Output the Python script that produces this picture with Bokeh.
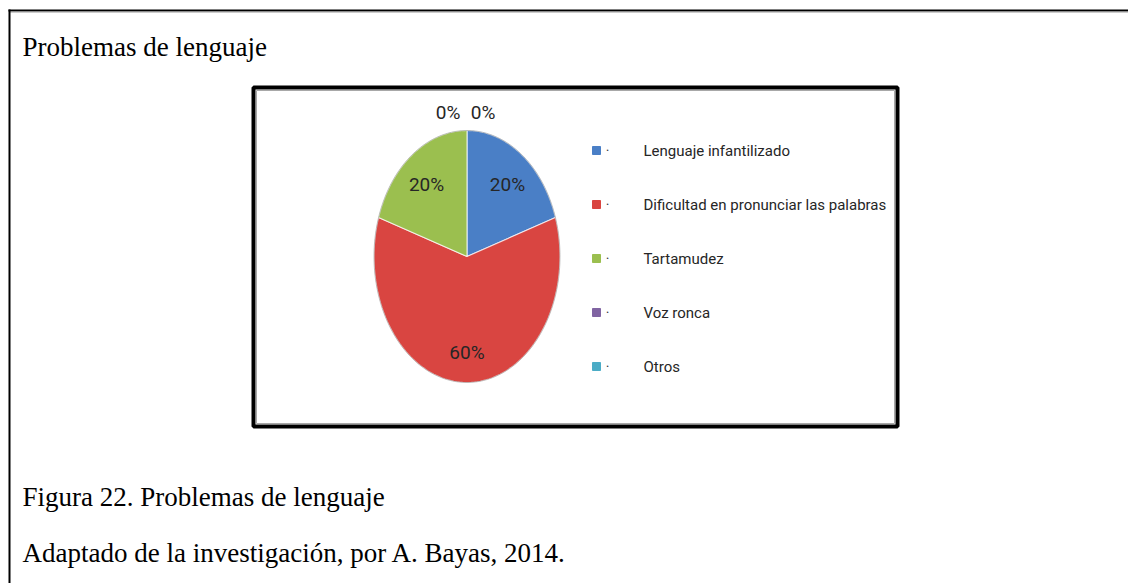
import numpy as np
from bokeh.plotting import figure
from bokeh.models import Range1d
from bokeh.core.properties import value
from bokeh.embed import file_html
from bokeh.resources import INLINE

# ---- data ----
categories = ["Lenguaje infantilizado", "Dificultad en pronunciar las palabras",
              "Tartamudez", "Voz ronca", "Otros"]
values = [20, 60, 20, 0, 0]
labels = ["20%", "60%", "20%", "0%", "0%"]
colors = ["#4a7fc6", "#d94541", "#9bbf4f", "#8064a2", "#4bacc6"]
title_text = "Problemas de lenguaje"
caption_text = "Figura 22. Problemas de lenguaje"
source_text = "Adaptado de la investigación, por A. Bayas, 2014."

# ---- figure in page-pixel coordinates ----
W, H = 1128, 583
p = figure(width=W, height=H, x_range=Range1d(0, W), y_range=Range1d(H, 0),
           output_backend="svg", toolbar_location=None, min_border=0)
p.axis.visible = False
p.grid.visible = False
p.outline_line_color = None
p.background_fill_color = "white"
p.border_fill_color = "white"

SERIF = value("Liberation Serif")
SANS = value("Roboto")

# outer document frame (top and left rules)
p.line(x=[8, 1128], y=[10, 10], line_color="black", line_width=2)
p.line(x=[9, 1128], y=[11.5, 11.5], line_color="#9a9a9a", line_width=1)
p.line(x=[9, 9], y=[9, 583], line_color="black", line_width=2)

# page texts
for ty, txt in [(46, title_text), (496, caption_text), (552, source_text)]:
    p.text(x=[22], y=[ty], text=[txt], text_font=SERIF, text_font_size="27px",
           text_color="black", text_baseline="alphabetic", text_align="left")

# chart box
p.quad(left=[253], right=[897], top=[87], bottom=[426], fill_color="white",
       line_color="black", line_width=4)
p.quad(left=[256], right=[894], top=[90], bottom=[423], fill_color=None,
       line_color="#a8a8a8", line_width=1)

# ---- pie (elliptical) ----
cx, cy, rx, ry = 466.5, 256.0, 93.0, 126.0
total = float(sum(values))
cum = np.concatenate([[0.0], np.cumsum(values)]) / total
xs, ys, pc = [], [], []
for i, v in enumerate(values):
    if v <= 0:
        continue
    t = np.linspace(cum[i], cum[i + 1], 120) * 2 * np.pi
    xs.append(list(np.r_[cx, cx + rx * np.sin(t)]))
    ys.append(list(np.r_[cy, cy - ry * np.cos(t)]))
    pc.append(colors[i])
p.patches(xs=xs, ys=ys, fill_color=pc, line_color="white", line_alpha=0.7, line_width=1.2)
tt = np.linspace(0, 2 * np.pi, 300)
p.line(x=cx + rx * np.sin(tt), y=cy - ry * np.cos(tt), line_color="#555555",
       line_alpha=0.35, line_width=1)

# slice labels
lx, ly, lt = [], [], []
zero_k = 0
for i, v in enumerate(values):
    mid = (cum[i] + cum[i + 1]) / 2 * 2 * np.pi
    if v > 0:
        f = 0.74
        lx.append(cx + f * rx * np.sin(mid))
        ly.append(cy - f * ry * np.cos(mid) + 3)
    else:
        lx.append(cx + rx * np.sin(mid) + (-19 if zero_k == 0 else 16))
        ly.append(cy - 1.14 * ry * np.cos(mid))
        zero_k += 1
    lt.append(labels[i])
p.text(x=lx, y=ly, text=lt, text_font=SANS, text_font_size="19px",
       text_color="#262626", text_align="center", text_baseline="middle")

# ---- legend ----
rows = [150 + 54 * k for k in range(len(categories))]
p.rect(x=[596] * len(rows), y=rows, width=8, height=8, fill_color=colors,
       line_color=colors, line_width=1)
p.text(x=[607] * len(rows), y=rows, text=["·"] * len(rows), text_font=SANS,
       text_font_size="14px", text_color="#404040", text_align="center", text_baseline="middle")
p.text(x=[643] * len(rows), y=rows, text=categories, text_font=SANS,
       text_font_size="15px", text_color="#262626", text_align="left", text_baseline="middle")

open("out.html", "w").write(file_html(p, INLINE))
